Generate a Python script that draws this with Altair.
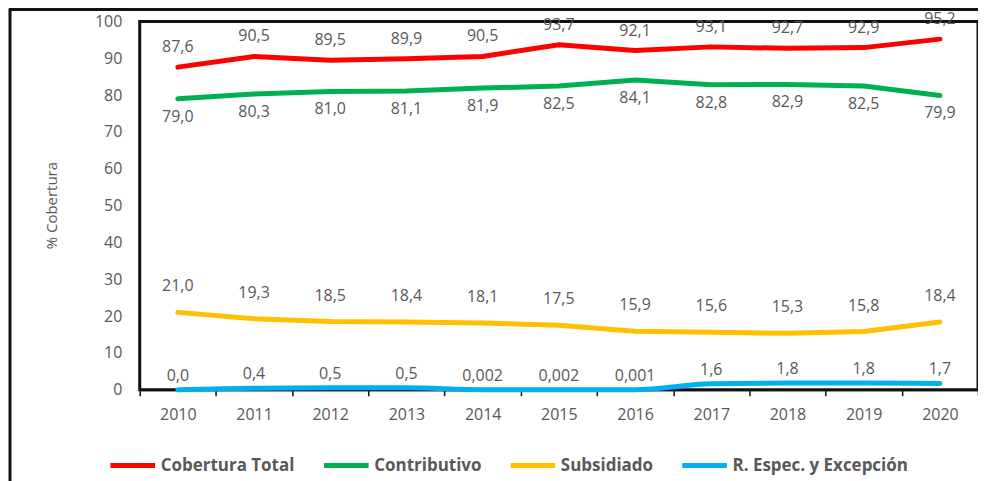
import altair as alt
import pandas as pd

years = ["2010", "2011", "2012", "2013", "2014", "2015", "2016", "2017", "2018", "2019", "2020"]
total = [87.6, 90.5, 89.5, 89.9, 90.5, 93.7, 92.1, 93.1, 92.7, 92.9, 95.2]
contributivo = [79.0, 80.3, 81.0, 81.1, 81.9, 82.5, 84.1, 82.8, 82.9, 82.5, 79.9]
subsidiado = [21.0, 19.3, 18.5, 18.4, 18.1, 17.5, 15.9, 15.6, 15.3, 15.8, 18.4]
especial = [0.0, 0.4, 0.5, 0.5, 0.002, 0.002, 0.001, 1.6, 1.8, 1.8, 1.7]
especial_labels = ["0,0", "0,4", "0,5", "0,5", "0,002", "0,002", "0,001", "1,6", "1,8", "1,8", "1,7"]

series_names = ["Cobertura Total", "Contributivo", "Subsidiado", "R. Espec. y Excepción"]
series_colors = ["#FF0000", "#00B050", "#FFC000", "#00B0F0"]


def fmt(v):
    return f"{v:.1f}".replace(".", ",")


rows = []
for name, vals in zip(series_names, [total, contributivo, subsidiado, especial]):
    for i, (y, v) in enumerate(zip(years, vals)):
        lab = especial_labels[i] if name == series_names[3] else fmt(v)
        rows.append({"Año": y, "Serie": name, "Valor": v, "Etiqueta": lab})
df = pd.DataFrame(rows)

FONT = "Open Sans"
GREY = "#595959"
EDGE = "#111111"

x_enc = alt.X(
    "Año:O",
    bandPosition=0.5,
    scale=alt.Scale(type="band", paddingInner=0, paddingOuter=0),
    axis=alt.Axis(
        title=None, labelAngle=0, tickBand="extent", tickSize=6, tickColor=EDGE,
        tickWidth=1.5, domainColor=EDGE, domainWidth=2, labelPadding=11,
        labelFontSize=16, labelColor=GREY, labelFont=FONT,
    ),
)
y_enc = alt.Y(
    "Valor:Q",
    scale=alt.Scale(domain=[0, 100], nice=False),
    axis=alt.Axis(
        title="% Cobertura", values=list(range(0, 101, 10)), grid=False, ticks=False,
        domain=False, labelPadding=18, labelFontSize=16, labelColor=GREY, labelFont=FONT,
        titleFontSize=15, titleFontWeight="normal", titleColor=GREY, titleFont=FONT,
        titleX=-80, titleY=184,
    ),
)
color_enc = alt.Color(
    "Serie:N",
    scale=alt.Scale(domain=series_names, range=series_colors),
    legend=alt.Legend(
        title=None, orient="none", legendX=-32, legendY=420, direction="horizontal",
        symbolType="stroke", symbolSize=2000, symbolStrokeWidth=5, labelFontSize=17,
        labelFontWeight="bold", labelColor=GREY, labelFont=FONT, columnPadding=18,
        labelOffset=3, labelLimit=400,
    ),
)

base = alt.Chart(df)

lines_main = base.transform_filter(
    alt.datum.Serie != series_names[3]
).mark_line(strokeWidth=5, strokeCap="round").encode(x=x_enc, y=y_enc, color=color_enc)
line_blue = base.transform_filter(
    alt.datum.Serie == series_names[3]
).mark_line(strokeWidth=5, strokeCap="round", interpolate="monotone").encode(
    x=x_enc, y=y_enc, color=color_enc
)

offsets = {series_names[0]: -20, series_names[1]: 18, series_names[2]: -26, series_names[3]: -14}
label_layers = []
for name in series_names:
    label_layers.append(
        base.transform_filter(alt.datum.Serie == name)
        .mark_text(fontSize=16, color=GREY, font=FONT, dy=offsets[name])
        .encode(x=x_enc, y=y_enc, text="Etiqueta:N")
    )

one = pd.DataFrame({"a": [0]})
frame_top = alt.Chart(one).mark_rule(color=EDGE, strokeWidth=3).encode(
    x=alt.value(-131), x2=alt.value(860), y=alt.value(-12)
)
frame_left = alt.Chart(one).mark_rule(color=EDGE, strokeWidth=3).encode(
    x=alt.value(-130), y=alt.value(-13), y2=alt.value(480)
)

chart = alt.layer(lines_main, line_blue, *label_layers, frame_top, frame_left).properties(
    width=840, height=369, autosize=alt.AutoSizeParams(type="none"),
    padding={"left": 132, "top": 13, "right": 0, "bottom": 95},
).configure_view(stroke=EDGE, strokeWidth=3)

chart.save("out.html", embed_options={"renderer": "svg", "actions": False})
